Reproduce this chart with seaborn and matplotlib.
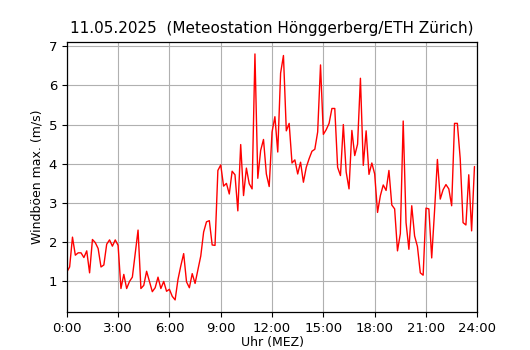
import numpy as np
import pandas as pd
import matplotlib
matplotlib.use("Agg")
import matplotlib.pyplot as plt
import seaborn as sns

# ── data: max. wind gusts, 10-minute values ─────────────────────────────────
title = "11.05.2025  (Meteostation Hönggerberg/ETH Zürich)"
gusts = [
    1.24, 1.37, 2.13, 1.67, 1.73, 1.73, 1.61, 1.78, 1.22, 2.07, 1.99, 1.84,
    1.37, 1.42, 1.95, 2.06, 1.90, 2.06, 1.92, 0.82, 1.18, 0.82, 1.00, 1.11,
    1.71, 2.31, 0.82, 0.90, 1.26, 1.00, 0.74, 0.84, 1.11, 0.82, 1.00, 0.75,
    0.80, 0.62, 0.53, 1.05, 1.40, 1.71, 0.99, 0.84, 1.20, 0.95, 1.30, 1.65,
    2.26, 2.52, 2.55, 1.93, 1.92, 3.83, 3.97, 3.43, 3.50, 3.23, 3.81, 3.72,
    2.80, 4.49, 3.19, 3.89, 3.49, 3.36, 6.80, 3.63, 4.34, 4.62, 3.74, 3.42,
    4.81, 5.20, 4.30, 6.31, 6.76, 4.84, 5.03, 4.02, 4.10, 3.74, 4.04, 3.53,
    3.91, 4.13, 4.32, 4.37, 4.81, 6.52, 4.75, 4.87, 5.03, 5.41, 5.41, 3.91,
    3.70, 5.00, 3.79, 3.36, 4.85, 4.21, 4.50, 6.18, 3.96, 4.84, 3.73, 4.02,
    3.74, 2.76, 3.19, 3.46, 3.32, 3.83, 2.95, 2.85, 1.78, 2.22, 5.09, 2.50,
    1.82, 2.93, 2.16, 1.89, 1.22, 1.16, 2.87, 2.85, 1.60, 2.80, 4.11, 3.10,
    3.34, 3.47, 3.36, 2.93, 5.03, 5.03, 4.13, 2.50, 2.44, 3.72, 2.29, 3.93,
]
tick_hours = [0, 3, 6, 9, 12, 15, 18, 21, 24]
tick_labels = [f"{h}:00" for h in tick_hours]

df = pd.DataFrame({"gust": gusts})
df["hour"] = np.arange(len(df)) / 6.0   # 10-minute sampling

# ── style ───────────────────────────────────────────────────────────────────
sns.set_style("whitegrid", {
    "axes.edgecolor": "black",
    "axes.labelcolor": "black",
    "text.color": "black",
    "grid.color": "#b0b0b0",
    "xtick.bottom": True,
    "ytick.left": True,
    "xtick.color": "black",
    "ytick.color": "black",
})
plt.rcParams["font.family"] = ["DejaVu Sans"]

fig, ax = plt.subplots(figsize=(5.3, 3.5), dpi=100)
fig.subplots_adjust(left=0.126, right=0.9006, top=0.881, bottom=0.108)

sns.lineplot(data=df, x="hour", y="gust", ax=ax, color="red", linewidth=1.0)

ax.set_xlim(0, 24)
ax.set_xticks(tick_hours)
ax.set_xticklabels(tick_labels)
ax.set_title(title, fontsize=11, color="black")
ax.set_xlabel("Uhr (MEZ)", fontsize=9, labelpad=1)
ax.set_ylabel("Windböen max. (m/s)", fontsize=9)
ax.tick_params(labelsize=9.5, length=3.5, width=0.8)
for s in ax.spines.values():
    s.set_linewidth(0.9)
ax.grid(True, linewidth=0.8)

plt.savefig("out.png", dpi=100)
